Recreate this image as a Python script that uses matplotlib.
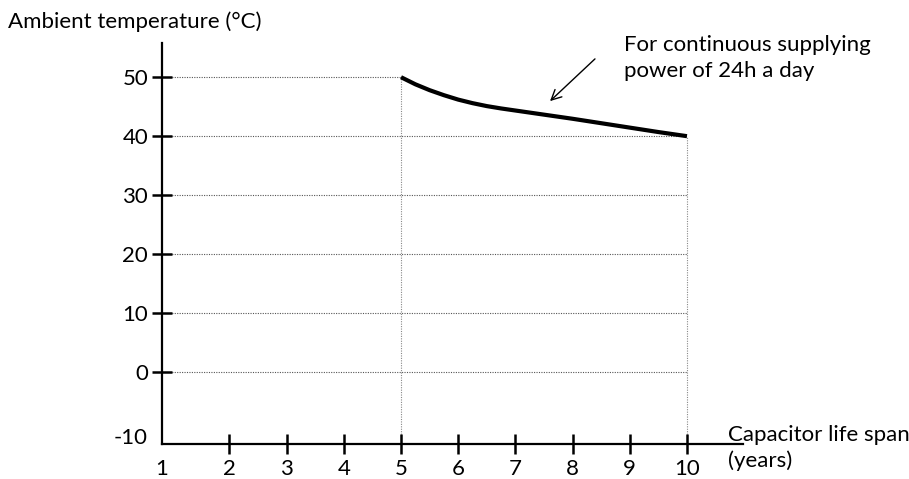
import numpy as np
import matplotlib.pyplot as plt

plt.rcParams['font.family'] = ['Lato', 'DejaVu Sans']

# capacitor life span (years) vs ambient temperature (deg C)
life_years = [5, 5.25, 5.5, 5.75, 6, 6.25, 6.5, 6.75, 7, 7.5, 8, 8.5, 9,
              9.5, 10]
ambient_temp = [50, 48.8, 47.8, 46.95, 46.2, 45.6, 45.1, 44.7, 44.35, 43.65,
                42.95, 42.2, 41.45, 40.7, 40]

x_ticks = [1, 2, 3, 4, 5, 6, 7, 8, 9, 10]
x_labels = ['1', '2', '3', '4', '5', '6', '7', '8', '9', '10']
y_ticks = [-10, 0, 10, 20, 30, 40, 50]
y_labels = ['-10', '0', '10', '20', '30', '40', '50']

W, H = 909, 479
fig = plt.figure(figsize=(W / 100, H / 100), dpi=100)
ax = fig.add_axes([162 / W, 35 / H, (743 - 162) / W, (444 - 43) / H])

# the hand drawn axes start a little before "1" and "-10"
x_left, x_right = 0.82, 10.98
y_bot, y_top = -12.2, 55.8
ax.set_xlim(x_left, x_right)
ax.set_ylim(y_bot, y_top)

for s in ['top', 'right']:
    ax.spines[s].set_visible(False)
for s in ['left', 'bottom']:
    ax.spines[s].set_linewidth(1.6)
    ax.spines[s].set_color('black')

fs = 16
ax.set_xticks([x_left] + x_ticks[1:])
ax.set_xticklabels(x_labels)
ax.set_yticks([y_bot] + y_ticks[1:])
ax.set_yticklabels(y_labels)
ax.tick_params(direction='inout', length=14, width=1.8, labelsize=fs,
               colors='black')
ax.tick_params(axis='x', pad=4)
ax.tick_params(axis='y', pad=3)
ax.xaxis.get_major_ticks()[0].tick1line.set_visible(False)
ax.yaxis.get_major_ticks()[0].tick1line.set_visible(False)
ax.yaxis.get_major_ticks()[0].label1.set_va('baseline')

# dotted guide lines
xs = np.array(life_years)
ts = np.array(ambient_temp)
for t in y_ticks[1:]:
    if ts.min() <= t <= ts.max():
        x_end = np.interp(t, ts[::-1], xs[::-1])
    else:
        x_end = xs.max()
    ax.plot([x_left, x_end], [t, t], color='#555555', lw=0.8,
            ls=(0, (1, 1.2)), zorder=1)
for xv, tv in [(xs[0], ts[0]), (xs[-1], ts[-1])]:
    ax.plot([xv, xv], [y_bot, tv], color='#888888', lw=0.8,
            ls=(0, (1, 1.2)), zorder=1)

ax.plot(life_years, ambient_temp, color='black', lw=3, solid_capstyle='butt',
        zorder=3)

ax.annotate('', xy=(548 / W, 1 - 103 / H), xytext=(597 / W, 1 - 57 / H),
            xycoords='figure fraction', textcoords='figure fraction',
            arrowprops=dict(arrowstyle='->', color='black', lw=1,
                            mutation_scale=18))

fig.text(624 / W, 1 - 35 / H, 'For continuous supplying\npower of 24h a day',
         fontsize=fs, va='top', ha='left', linespacing=1.35)
fig.text(8 / W, 1 - 22 / H, 'Ambient temperature (°C)', fontsize=fs,
         va='center', ha='left')
fig.text(728 / W, 1 - 448 / H, 'Capacitor life span\n(years)', fontsize=fs,
         va='center', ha='left', linespacing=1.35)

fig.savefig('out.png', dpi=100)
